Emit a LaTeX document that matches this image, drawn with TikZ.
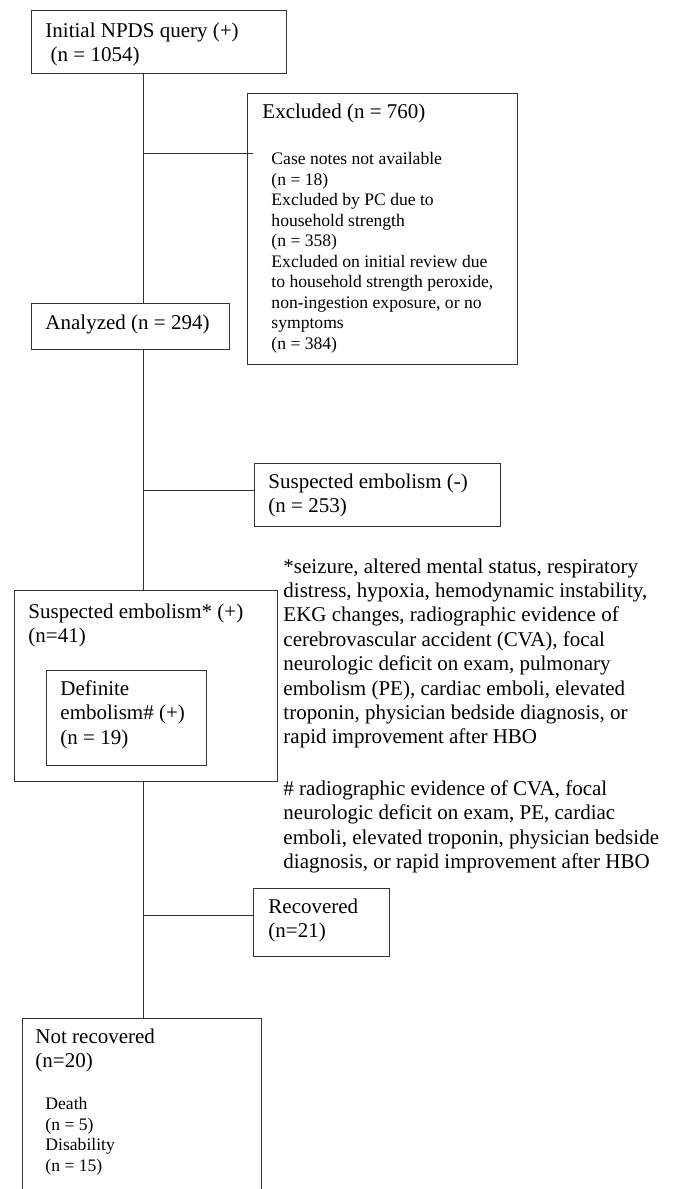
\documentclass[tikz,border=0pt]{standalone}
\usepackage{fontspec}
\setmainfont{Liberation Serif}
\usepackage{tikz}

\begin{document}
\begin{tikzpicture}
            [x=1pt,y=-1pt,line width=0.9pt,draw=black!80,
             box/.style={draw=black!80,rectangle,anchor=north west,inner sep=0pt},
             txt/.style={anchor=north west,inner sep=0pt,align=left,font=\fontsize{21}{24.4}\selectfont},
             subtxt/.style={anchor=north west,inner sep=0pt,align=left,font=\fontsize{17.6}{20.5}\selectfont}]
            \useasboundingbox (0,0) rectangle (679,1189);

            % boxes
            \node[box,minimum width=255pt,minimum height=63pt]  (init)   at (31,10)   {};
            \node[box,minimum width=270pt,minimum height=271pt] (excl)   at (247,93)  {};
            \node[box,minimum width=198pt,minimum height=46pt]  (anal)   at (31,303)  {};
            \node[box,minimum width=246pt,minimum height=63pt]  (susneg) at (254,463) {};
            \node[box,minimum width=263pt,minimum height=191pt] (suspos) at (14,590)  {};
            \node[box,minimum width=160pt,minimum height=95pt]  (defin)  at (46,670)  {};
            \node[box,minimum width=136pt,minimum height=68pt]  (recov)  at (253,888) {};
            \node[box,minimum width=239pt,minimum height=250pt] (notrec) at (22,1018) {};

            % texts
            \node[txt] (initT) at (45,22) {Initial NPDS query (+)\\\ (n = 1054)};
            \node[txt] (exclT) at (262,103) {Excluded (n = 760)};
            \node[subtxt] (exclS) at (271,152) {Case notes not available\\(n = 18)\\Excluded by PC due to\\household strength\\(n = 358)\\Excluded on initial review due\\to household strength peroxide,\\non-ingestion exposure, or no\\symptoms\\(n = 384)};
            \node[txt] (analT) at (45,314) {Analyzed (n = 294)};
            \node[txt] (susnegT) at (268,473) {Suspected embolism (-)\\(n = 253)};
            \node[txt] (susposT) at (28,603) {Suspected embolism* (+)\\(n=41)};
            \node[txt] (definT) at (60,680) {Definite\\embolism\# (+)\\(n = 19)};
            \node[txt] (recovT) at (268,898) {Recovered\\(n=21)};
            \node[txt] (notrecT) at (35,1028) {Not recovered\\(n=20)};
            \node[subtxt] (notrecS) at (45,1097) {Death\\(n = 5)\\Disability\\(n = 15)};
            \node[txt] (note1) at (283,558) {*seizure, altered mental status, respiratory\\distress, hypoxia, hemodynamic instability,\\EKG changes, radiographic evidence of\\cerebrovascular accident (CVA), focal\\neurologic deficit on exam, pulmonary\\embolism (PE), cardiac emboli, elevated\\troponin, physician bedside diagnosis, or\\rapid improvement after HBO};
            \node[txt] (note2) at (283,780) {\# radiographic evidence of CVA, focal\\neurologic deficit on exam, PE, cardiac\\emboli, elevated troponin, physician bedside\\diagnosis, or rapid improvement after HBO};

            % trunk and branches
            \coordinate (trunk) at (143,0);
            \coordinate (b1) at (143,153);
            \coordinate (b2) at (143,490);
            \coordinate (b3) at (143,915);
            \draw (init.south -| trunk) -- (anal.north -| trunk);
            \draw (b1) -- ([xshift=6pt]b1 -| excl.west);
            \draw (anal.south -| trunk) -- (suspos.north -| trunk);
            \draw (b2) -- (b2 -| susneg.west);
            \draw (suspos.south -| trunk) -- (notrec.north -| trunk);
            \draw (b3) -- (b3 -| recov.west);
        \end{tikzpicture}
\end{document}
